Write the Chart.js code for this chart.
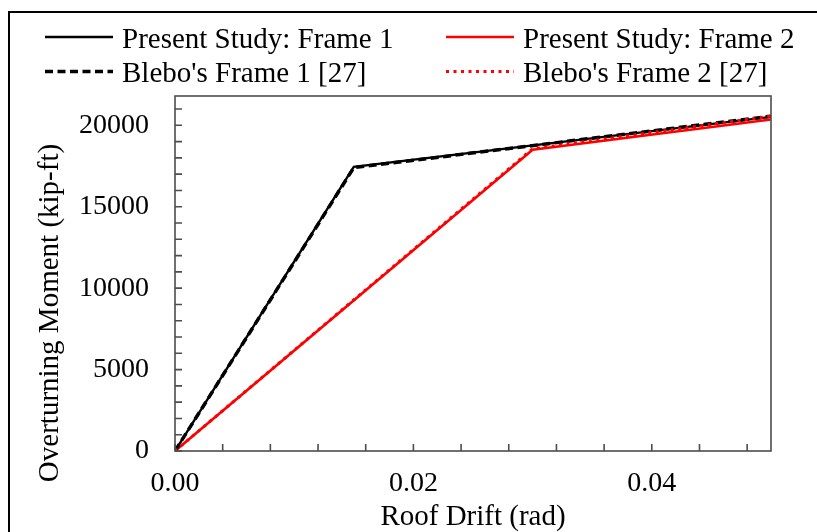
<!DOCTYPE html>
<html>
<head>
<meta charset="utf-8">
<script src="https://cdn.jsdelivr.net/npm/chart.js@4.4.1/dist/chart.umd.min.js"></script>
<style>
  html, body { margin: 0; padding: 0; background: #fff; overflow: hidden; }
  #frame { position: absolute; left: 8px; top: 11px; width: 900px; height: 600px; border: 2px solid #000; box-sizing: border-box; }
  #wrap { position: absolute; left: 0; top: 0; width: 817px; height: 532px; }
</style>
</head>
<body>
<div id="frame"></div>
<div id="wrap"><canvas id="momentChart"></canvas></div>
<script>
// Pushover curves: roof drift (rad) vs overturning moment (kip-ft)
const drift1 = [0, 0.015, 0.05];
const presentFrame1 = [0, 17450, 20520];
const bleboFrame1 = [0, 17400, 20560];

const drift2 = [0, 0.03, 0.05];
const presentFrame2 = [0, 18500, 20360];
const bleboFrame2 = [0, 18560, 20560];

const xTicks = [0, 0.004, 0.008, 0.012, 0.016, 0.02, 0.024, 0.028, 0.032, 0.036, 0.04, 0.044, 0.048];
const xTickLabels = ['0.00', '', '', '', '', '0.02', '', '', '', '', '0.04', '', ''];
const yTicks = [0, 1000, 2000, 3000, 4000, 5000, 6000, 7000, 8000, 9000, 10000,
  11000, 12000, 13000, 14000, 15000, 16000, 17000, 18000, 19000, 20000, 21000];
const yLabelValues = [0, 5000, 10000, 15000, 20000];

const serif = "'Liberation Serif', 'Times New Roman', serif";
const frameColor = '#4d4d4d';

function toPoints(xs, ys) {
  return xs.map((x, i) => ({ x: x, y: ys[i] }));
}

// Legend drawn as two columns above the plot
const legendCols = [45, 446];
const legendRows = [37, 71.5];

const cornerLegend = {
  id: 'cornerLegend',
  afterDraw(chart) {
    const ctx = chart.ctx;
    chart.data.datasets.forEach((ds, i) => {
      const x0 = legendCols[i % 2];
      const ly = legendRows[Math.floor(i / 2)];
      ctx.save();
      ctx.strokeStyle = ds.borderColor;
      ctx.lineWidth = ds.borderWidth;
      ctx.setLineDash(ds.borderDash || []);
      ctx.beginPath();
      ctx.moveTo(x0, ly);
      ctx.lineTo(x0 + 68, ly);
      ctx.stroke();
      ctx.setLineDash([]);
      ctx.fillStyle = '#000';
      ctx.font = '29px ' + serif;
      ctx.textBaseline = 'alphabetic';
      ctx.fillText(ds.label, x0 + 77, ly + 10.5);
      ctx.restore();
    });
  }
};

// Box around the plot, inward tick marks and the rotated y title
const plotFrame = {
  id: 'plotFrame',
  afterDatasetsDraw(chart) {
    const { ctx, chartArea: a, scales } = chart;
    ctx.save();
    ctx.strokeStyle = frameColor;
    ctx.lineWidth = 1.6;
    ctx.beginPath();
    scales.y.ticks.forEach(t => {
      const py = scales.y.getPixelForValue(t.value);
      ctx.moveTo(a.left, py);
      ctx.lineTo(a.left + 7, py);
    });
    scales.x.ticks.forEach(t => {
      const px = scales.x.getPixelForValue(t.value);
      ctx.moveTo(px, a.bottom);
      ctx.lineTo(px, a.bottom - 7);
    });
    ctx.stroke();
    ctx.strokeRect(a.left, a.top, a.right - a.left, a.bottom - a.top);

    ctx.fillStyle = '#000';
    ctx.font = '29px ' + serif;
    ctx.textAlign = 'center';
    ctx.textBaseline = 'middle';
    ctx.translate(50, 313);
    ctx.rotate(-Math.PI / 2);
    ctx.fillText('Overturning Moment (kip-ft)', 0, 0);
    ctx.restore();
  }
};

Chart.defaults.font.family = serif;
Chart.defaults.color = '#000';

new Chart(document.getElementById('momentChart'), {
  type: 'line',
  data: {
    datasets: [
      {
        label: 'Present Study: Frame 1',
        data: toPoints(drift1, presentFrame1),
        borderColor: '#000000',
        borderWidth: 2.4,
        order: 4,
      },
      {
        label: 'Present Study: Frame 2',
        data: toPoints(drift2, presentFrame2),
        borderColor: '#ff0000',
        borderWidth: 2.6,
        order: 3,
      },
      {
        label: "Blebo's Frame 1 [27]",
        data: toPoints(drift1, bleboFrame1),
        borderColor: '#000000',
        borderWidth: 3.5,
        borderDash: [8, 4.5],
        order: 2,
      },
      {
        label: "Blebo's Frame 2 [27]",
        data: toPoints(drift2, bleboFrame2),
        borderColor: '#ff0000',
        borderWidth: 3,
        borderDash: [3, 4.5],
        order: 1,
      },
    ],
  },
  options: {
    responsive: true,
    maintainAspectRatio: false,
    animation: false,
    layout: { padding: { top: 96, right: 46, bottom: 0, left: 0 } },
    elements: { point: { radius: 0 }, line: { tension: 0, fill: false } },
    plugins: { legend: { display: false }, tooltip: { enabled: false } },
    scales: {
      x: {
        type: 'linear',
        min: 0,
        max: 0.05,
        afterBuildTicks: (scale) => { scale.ticks = xTicks.map(v => ({ value: v })); },
        afterFit: (scale) => { scale.height = 81; },
        grid: { display: false, drawTicks: false },
        border: { display: false },
        ticks: {
          padding: 16,
          maxRotation: 0,
          autoSkip: false,
          font: { size: 28 },
          callback: (value, index) => xTickLabels[index],
        },
        title: {
          display: true,
          text: 'Roof Drift (rad)',
          font: { size: 29, lineHeight: 1 },
          padding: { top: 0, bottom: 0 },
        },
      },
      y: {
        type: 'linear',
        min: 0,
        max: 21800,
        afterBuildTicks: (scale) => { scale.ticks = yTicks.map(v => ({ value: v })); },
        afterFit: (scale) => { scale.width = 175; },
        grid: { display: false, drawTicks: false },
        border: { display: false },
        ticks: {
          padding: 26,
          autoSkip: false,
          font: { size: 28 },
          callback: (value) => (yLabelValues.includes(value) ? String(value) : ''),
        },
      },
    },
  },
  plugins: [plotFrame, cornerLegend],
});
</script>
</body>
</html>
